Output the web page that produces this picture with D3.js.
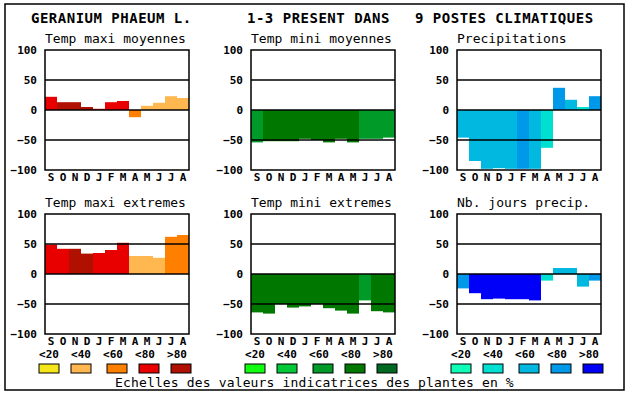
<!DOCTYPE html>
<html><head><meta charset="utf-8">
<script src="https://cdn.jsdelivr.net/npm/d3@7"></script>
<style>
html,body{margin:0;padding:0;background:#fff;}
svg{display:block;}
</style></head>
<body>
<script>
// ---------- data ----------
const months = ["S","O","N","D","J","F","M","A","M","J","J","A"];
const yTicks = [100, 50, 0, -50, -100];
const classLabels = ["<20","<40","<60","<80",">80"];

const redScale   = ["#f5e61a","#ffb850","#ff8000","#e80000","#b01000"];
const greenScale = ["#10ff10","#00c838","#009a28","#007800","#006820"];
const blueScale  = ["#10ffb8","#00e0d0","#00b8e0","#0098e8","#0000f8"];

const titleLeft = "GERANIUM PHAEUM L.";
const titleMid = "1-3 PRESENT DANS";
const titleRight = "9 POSTES CLIMATIQUES";
const footer = "Echelles des valeurs indicatrices des plantes en %";

const tmaxMoyTitle = "Temp maxi moyennes";
const tmaxMoyVals  = [22, 13, 13, 5, 2, 13, 15, -12, 7, 12, 23, 20];
const tmaxMoyCls   = [3, 4, 4, 4, 3, 3, 3, 2, 1, 1, 1, 1];

const tminMoyTitle = "Temp mini moyennes";
const tminMoyVals  = [-54, -52, -52, -52, -48, -50, -54, -48, -54, -48, -48, -46];
const tminMoyCls   = [2, 3, 3, 3, 3, 3, 3, 3, 3, 2, 2, 2];

const precTitle = "Precipitations";
const precVals  = [-46, -85, -98, -97, -98, -98, -98, -63, 37, 17, 5, 23];
const precCls   = [2, 2, 2, 2, 2, 3, 2, 1, 3, 2, 1, 3];

const tmaxExtTitle = "Temp maxi extremes";
const tmaxExtVals  = [49, 42, 42, 34, 35, 40, 52, 30, 30, 27, 62, 65];
const tmaxExtCls   = [3, 3, 4, 4, 3, 3, 3, 1, 1, 1, 2, 2];

const tminExtTitle = "Temp mini extremes";
const tminExtVals  = [-64, -66, -50, -56, -54, -50, -57, -61, -66, -44, -62, -64];
const tminExtCls   = [3, 3, 3, 3, 3, 3, 3, 3, 3, 2, 3, 3];

const joursTitle = "Nb. jours precip.";
const joursVals  = [-24, -32, -42, -41, -42, -42, -44, -11, 10, 10, -21, -11];
const joursCls   = [3, 4, 4, 4, 4, 4, 4, 1, 2, 2, 2, 3];

// ---------- layout ----------
const W = 630, H = 394;
const FONT = "'DejaVu Sans Mono', 'Liberation Mono', monospace";
const svg = d3.select("body").append("svg").attr("width", W).attr("height", H);

svg.append("rect").attr("x", 5).attr("y", 4).attr("width", 619).attr("height", 386)
  .attr("fill", "none").attr("stroke", "#000").attr("stroke-width", 1.5);

const tStyle = s => s.attr("font-family", FONT).attr("font-weight", "bold").attr("font-size", 14)
  .attr("letter-spacing", 0.5).attr("fill", "#000");
tStyle(svg.append("text").attr("x", 31).attr("y", 23).text(titleLeft));
tStyle(svg.append("text").attr("x", 247).attr("y", 23).text(titleMid));
tStyle(svg.append("text").attr("x", 415).attr("y", 23).text(titleRight));

const panels = [
  {x: 45,  y: 50,  title: tmaxMoyTitle, vals: tmaxMoyVals, cls: tmaxMoyCls, pal: redScale},
  {x: 251, y: 50,  title: tminMoyTitle, vals: tminMoyVals, cls: tminMoyCls, pal: greenScale},
  {x: 457, y: 50,  title: precTitle,    vals: precVals,    cls: precCls,    pal: blueScale},
  {x: 45,  y: 214, title: tmaxExtTitle, vals: tmaxExtVals, cls: tmaxExtCls, pal: redScale},
  {x: 251, y: 214, title: tminExtTitle, vals: tminExtVals, cls: tminExtCls, pal: greenScale},
  {x: 457, y: 214, title: joursTitle,   vals: joursVals,   cls: joursCls,   pal: blueScale},
];
const PW = 144, PH = 120;

panels.forEach(p => {
  const g = svg.append("g").attr("transform", `translate(${p.x},${p.y})`);
  const x = d3.scaleBand().domain(d3.range(months.length)).range([0, PW]).padding(0);
  const y = d3.scaleLinear().domain([-100, 100]).range([PH, 0]);

  g.append("text").attr("x", 0).attr("y", -7.5)
    .attr("font-family", FONT).attr("font-size", 13).attr("fill", "#000").text(p.title);

  g.selectAll("rect.bar").data(p.vals).join("rect").attr("class", "bar")
    .attr("x", (d, i) => x(i)).attr("width", x.bandwidth())
    .attr("y", d => y(Math.max(0, d))).attr("height", d => Math.abs(y(d) - y(0)))
    .attr("fill", (d, i) => p.pal[p.cls[i]]);

  g.selectAll("line.grid").data([50, 0, -50]).join("line").attr("class", "grid")
    .attr("x1", 0).attr("x2", PW).attr("y1", d => y(d)).attr("y2", d => y(d))
    .attr("stroke", "#000").attr("stroke-width", 1.5);

  g.append("rect").attr("x", 0).attr("y", 0).attr("width", PW).attr("height", PH)
    .attr("fill", "none").attr("stroke", "#000").attr("stroke-width", 1.5);

  const ya = d3.axisLeft(y).tickValues(yTicks).tickSize(0).tickPadding(8);
  const yg = g.append("g").call(ya);
  yg.select(".domain").remove();
  yg.selectAll("text").attr("font-family", FONT).attr("font-weight", "bold")
    .attr("font-size", 11).attr("fill", "#000");

  const xa = d3.axisBottom(x).tickFormat(i => months[i]).tickSize(0).tickPadding(3);
  const xg = g.append("g").attr("transform", `translate(0,${PH})`).call(xa);
  xg.select(".domain").remove();
  xg.selectAll("text").attr("font-family", FONT).attr("font-weight", "bold")
    .attr("font-size", 11).attr("fill", "#000");
});

// ---------- legends ----------
const legendGroups = [
  {x: 49,  pal: redScale},
  {x: 255, pal: greenScale},
  {x: 461, pal: blueScale},
];
const swatchShift = [0, 0, 4, 4, 4];
legendGroups.forEach(lg => {
  const lx = d3.scalePoint().domain(d3.range(classLabels.length)).range([lg.x, lg.x + 128]);
  const g = svg.append("g");
  g.selectAll("text").data(classLabels).join("text")
    .attr("x", (d, i) => lx(i)).attr("y", 358).attr("text-anchor", "middle")
    .attr("font-family", FONT).attr("font-weight", "bold").attr("font-size", 11).attr("fill", "#000")
    .text(d => d);
  g.selectAll("rect").data(lg.pal).join("rect")
    .attr("x", (d, i) => lx(i) + swatchShift[i] - 10).attr("y", 364)
    .attr("width", 20).attr("height", 9)
    .attr("fill", d => d).attr("stroke", "#000").attr("stroke-width", 1);
});

svg.append("text").attr("x", 115).attr("y", 386.5)
  .attr("font-family", FONT).attr("font-size", 13).attr("letter-spacing", 0.15)
  .attr("fill", "#000").text(footer);
</script>
</body></html>
